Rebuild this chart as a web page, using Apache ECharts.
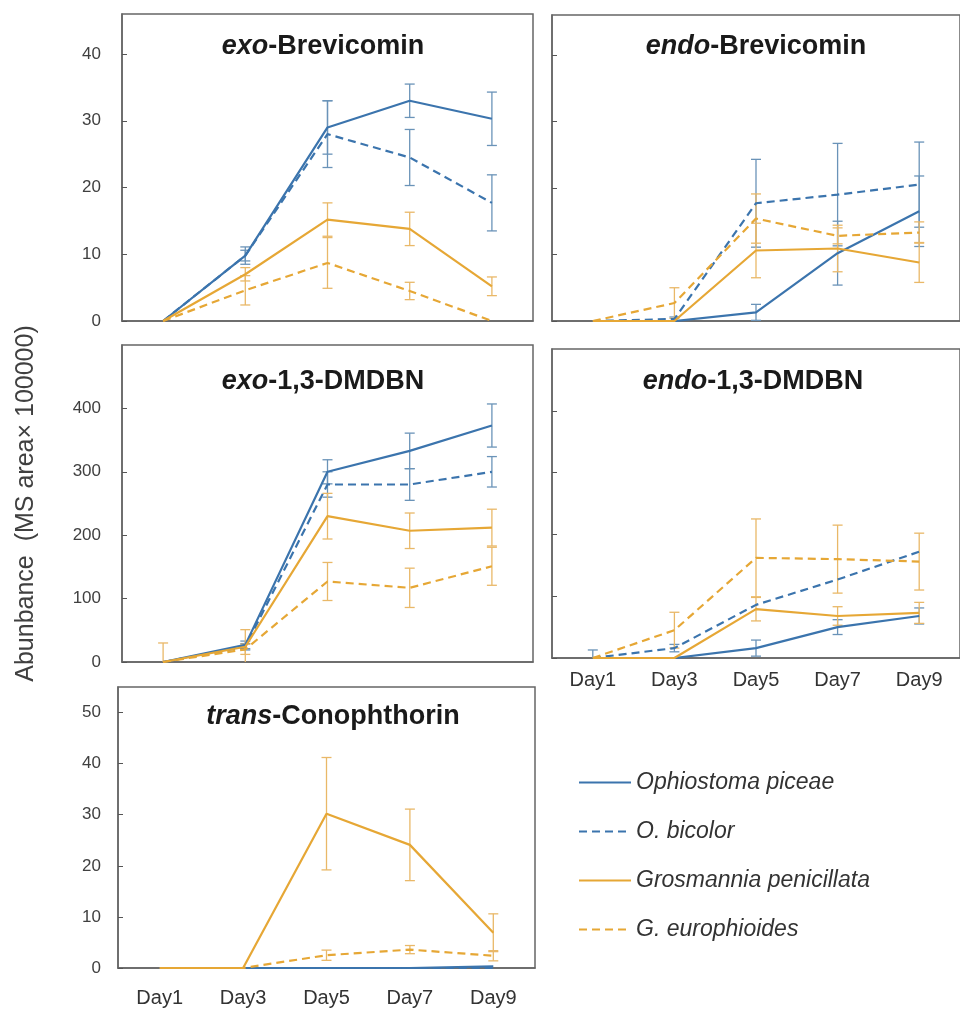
<!DOCTYPE html>
<html>
<head>
<meta charset="utf-8">
<script src="https://cdn.jsdelivr.net/npm/echarts@6/dist/echarts.min.js"></script>
<style>
  html, body { margin: 0; padding: 0; background: #fff; }
  #chart { width: 960px; height: 1009px; }
</style>
</head>
<body>
<div id="chart"></div>
<script>
// categories and series names
const days = ['Day1', 'Day3', 'Day5', 'Day7', 'Day9']
const species = ['Ophiostoma piceae', 'O. bicolor', 'Grosmannia penicillata', 'G. europhioides']

// means / errors, one row per species (same order as species)
const exoBrevMeans = [
  [0, 9.8, 29, 33, 30.3],
  [0, 9.8, 28, 24.5, 17.7],
  [0, 7, 15.2, 13.8, 5.2],
  [0, 4.6, 8.7, 4.5, 0]
]
const exoBrevErrs = [
  [0, 1.3, 4, 2.5, 4],
  [0, 0.8, 5, 4.2, 4.2],
  [0, 1, 2.5, 2.5, 1.4],
  [0, 2.2, 3.8, 1.3, 0]
]
const endoBrevMeans = [
  [0, 0, 1.3, 10.2, 16.5],
  [0, 0.3, 17.7, 19, 20.5],
  [0, 0, 10.6, 10.9, 8.8],
  [0, 2.7, 15.4, 12.8, 13.3]
]
const endoBrevErrs = [
  [0, 0, 1.2, 4.8, 5.3],
  [0, 0.3, 6.6, 7.7, 6.4],
  [0, 0, 4.1, 3.5, 3],
  [0, 2.3, 3.7, 1.2, 1.6]
]
const exoDmdbnMeans = [
  [0, 27, 300, 333, 373],
  [0, 24, 280, 280, 300],
  [0, 24, 230, 207, 212],
  [0, 20, 127, 117, 151]
]
const exoDmdbnErrs = [
  [0, 6, 19, 28, 34],
  [0, 5, 20, 25, 24],
  [0, 27, 36, 28, 29],
  [30, 8, 30, 31, 30]
]
const endoDmdbnMeans = [
  [0, 0, 16, 50, 68],
  [0, 16, 86, 127, 172],
  [0, 0, 79, 68, 73],
  [0, 45, 162, 160, 156]
]
const endoDmdbnErrs = [
  [0, 0, 13, 12, 13],
  [13, 6, 0, 0, 0],
  [0, 0, 19, 15, 17],
  [0, 29, 63, 55, 46]
]
const transConoMeans = [
  [0, 0, 0, 0, 0.3],
  [0, 0, 0, 0, 0],
  [0, 0, 30.2, 24.1, 6.9],
  [0, 0, 2.5, 3.6, 2.4]
]
const transConoErrs = [
  [0, 0, 0, 0, 0],
  [0, 0, 0, 0, 0],
  [0, 0, 11, 7, 3.7],
  [0, 0, 1, 0.8, 1]
]
// tick values shown on each panel's y axis
const smallTicks = [0, 10, 20, 30, 40]
const bigTicks = [0, 100, 200, 300, 400]
const conoTicks = [0, 10, 20, 30, 40, 50]

const FONT = 'Liberation Sans, Arial, sans-serif'
const lineColors = ['#3b74ad', '#3b74ad', '#e6a735', '#e6a735']
const errColors = ['#6a93b8', '#6a93b8', '#e9b868', '#e9b868']
const lineTypes = ['solid', [8, 5], 'solid', [8, 5]]
const axisGrey = '#666'

const panels = [
  { pre: 'exo', post: '-Brevicomin', means: exoBrevMeans, errs: exoBrevErrs, ticks: smallTicks,
    grid: { left: 122, top: 14, width: 411, height: 307 }, max: 46, interval: 10,
    yLabels: true, xLabels: false, tx: 323, ty: 47 },
  { pre: 'endo', post: '-Brevicomin', means: endoBrevMeans, errs: endoBrevErrs, ticks: smallTicks,
    grid: { left: 552, top: 15, width: 417, height: 306 }, max: 46, interval: 10,
    yLabels: false, xLabels: false, tx: 756, ty: 47 },
  { pre: 'exo', post: '-1,3-DMDBN', means: exoDmdbnMeans, errs: exoDmdbnErrs, ticks: bigTicks,
    grid: { left: 122, top: 345, width: 411, height: 317 }, max: 500, interval: 100,
    yLabels: true, xLabels: false, tx: 323, ty: 382,
    yName: 'Abunbance  (MS area× 100000)' },
  { pre: 'endo', post: '-1,3-DMDBN', means: endoDmdbnMeans, errs: endoDmdbnErrs, ticks: bigTicks,
    grid: { left: 552, top: 349, width: 417, height: 309 }, max: 500, interval: 100,
    yLabels: false, xLabels: true, xMargin: 12, tx: 753, ty: 382 },
  { pre: 'trans', post: '-Conophthorin', means: transConoMeans, errs: transConoErrs, ticks: conoTicks,
    grid: { left: 118, top: 687, width: 417, height: 281 }, max: 55, interval: 10,
    yLabels: true, xLabels: true, xMargin: 20, tx: 333, ty: 717 }
]

const errRenderer = color => (params, api) => {
  const x = api.value(0)
  const m = api.value(1)
  const e = api.value(2)
  if (!e) return
  const lo = Math.max(m - e, 0)
  const top = api.coord([x, m + e])
  const bot = api.coord([x, lo])
  const cap = 5
  const st = { stroke: color, lineWidth: 1.3 }
  const kids = [
    { type: 'line', shape: { x1: top[0], y1: top[1], x2: bot[0], y2: bot[1] }, style: st },
    { type: 'line', shape: { x1: top[0] - cap, y1: top[1], x2: top[0] + cap, y2: top[1] }, style: st }
  ]
  if (lo > 0) {
    kids.push({ type: 'line', shape: { x1: bot[0] - cap, y1: bot[1], x2: bot[0] + cap, y2: bot[1] }, style: st })
  }
  return { type: 'group', children: kids }
}

const grid = []
const xAxis = []
const yAxis = []
const tickAxes = []
const series = []
const graphic = []

panels.forEach((p, i) => {
  grid.push(Object.assign({ show: true, borderColor: axisGrey, borderWidth: 1.5, containLabel: false }, p.grid))
  xAxis.push({
    type: 'category', gridIndex: i, data: days, boundaryGap: true,
    axisLine: { lineStyle: { color: axisGrey, width: 1.5 } },
    axisTick: { show: false },
    axisLabel: { show: p.xLabels, margin: p.xMargin || 8, fontSize: 20, color: '#333', fontFamily: FONT }
  })
  yAxis.push({
    type: 'value', gridIndex: i, min: 0, max: p.max, interval: p.interval,
    splitLine: { show: false },
    axisLine: { show: true, lineStyle: { color: axisGrey, width: 1.5 } },
    axisTick: { show: false },
    axisLabel: { show: p.yLabels, showMaxLabel: false, margin: p.grid.left - 101, fontSize: 17, color: '#404040', fontFamily: FONT },
    name: p.yName || '',
    nameLocation: 'middle',
    nameGap: 83,
    nameRotate: 90,
    nameTextStyle: { fontSize: 25, color: '#404040', fontFamily: FONT }
  })
  // twin axis shifted 5px into the plot; its outward ticks land inside the frame
  tickAxes.push({
    type: 'value', gridIndex: i, min: 0, max: p.max, interval: p.interval,
    position: 'left', offset: -5,
    splitLine: { show: false },
    axisLine: { show: false },
    axisLabel: { show: false },
    axisTick: { show: true, length: 5, customValues: p.ticks, lineStyle: { color: '#555' } }
  })
  p.means.forEach((vals, k) => {
    series.push({
      name: species[k], type: 'line', xAxisIndex: i, yAxisIndex: i,
      data: vals, symbol: 'none', z: 3,
      lineStyle: { color: lineColors[k], width: 2.2, type: lineTypes[k] },
      itemStyle: { color: lineColors[k] }
    })
    series.push({
      type: 'custom', xAxisIndex: i, yAxisIndex: i, z: 2, clip: true,
      renderItem: errRenderer(errColors[k]),
      encode: { x: 0, y: 1 },
      data: vals.map((v, j) => [j, v, p.errs[k][j]])
    })
  })
  graphic.push({
    type: 'text', x: p.tx, y: p.ty, z: 10,
    style: {
      text: '{i|' + p.pre + '}{n|' + p.post + '}',
      align: 'center', verticalAlign: 'middle',
      rich: {
        i: { fontStyle: 'italic', fontWeight: 'bold', fontSize: 27, fontFamily: FONT, fill: '#1a1a1a' },
        n: { fontWeight: 'bold', fontSize: 27, fontFamily: FONT, fill: '#1a1a1a' }
      }
    }
  })
})

const chart = echarts.init(document.getElementById('chart'))
chart.setOption({
  animation: false,
  backgroundColor: '#fff',
  grid, xAxis, yAxis: yAxis.concat(tickAxes), series, graphic,
  legend: {
    data: species, orient: 'vertical', left: 573, top: 766,
    itemWidth: 52, itemHeight: 14, itemGap: 26,
    itemStyle: { opacity: 0 },
    textStyle: { fontSize: 23, fontStyle: 'italic', color: '#333', fontFamily: FONT }
  }
})
</script>
</body>
</html>
